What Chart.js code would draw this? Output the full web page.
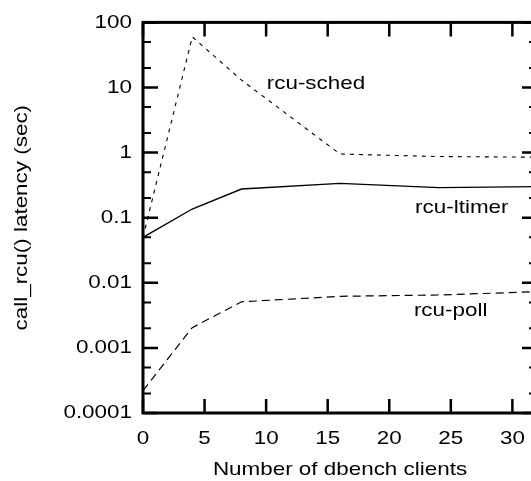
<!DOCTYPE html>
<html>
<head>
<meta charset="utf-8">
<script src="https://cdn.jsdelivr.net/npm/chart.js@4/dist/chart.umd.min.js"></script>
<style>
  html, body { margin: 0; padding: 0; background: #fff; overflow: hidden; }
  #wrap { width: 560px; height: 481px; }
</style>
</head>
<body>
<div id="wrap"><canvas id="latencyChart" width="560" height="481"></canvas></div>
<script>
// data
const clients = [0, 4, 8, 16, 24, 32];
const rcuSched = [0.05, 60, 13, 0.95, 0.87, 0.85];
const rcuLtimer = [0.05, 0.136, 0.276, 0.337, 0.29, 0.30];
const rcuPoll = [0.00022, 0.00205, 0.0051, 0.0062, 0.0065, 0.0073];

const yTickValues = [0.0001, 0.001, 0.01, 0.1, 1, 10, 100];
const yTickLabels = ['0.0001', '0.001', '0.01', '0.1', '1', '10', '100'];
const xTickValues = [0, 5, 10, 15, 20, 25, 30];

// where the curve names sit, in data units
const seriesNames = ['rcu-sched', 'rcu-ltimer', 'rcu-poll'];
const nameAnchorsX = [10.05, 22.1, 22.0];
const nameAnchorsY = [11.5, 0.144, 0.0037];

const FONT = '"Liberation Sans", Arial, Helvetica, sans-serif';
const FSIZE = 19;
const TEXT_STRETCH = 1.18; // the original lettering is wide

function toPoints(ys) {
  return clients.map((x, i) => ({ x: x, y: ys[i] }));
}

// stretch every label sideways about its anchor
const baseFillText = CanvasRenderingContext2D.prototype.fillText;
function wideFillText(t, x, y, w) {
  this.save();
  this.translate(x, y);
  this.scale(TEXT_STRETCH, 1);
  if (w === undefined) baseFillText.call(this, t, 0, 0);
  else baseFillText.call(this, t, 0, 0, w / TEXT_STRETCH);
  this.restore();
}

// frame, inward ticks and curve names
const framePlugin = {
  id: 'frame',
  beforeDraw(chart) {
    chart.ctx.fillText = wideFillText;
  },
  afterDatasetsDraw(chart) {
    const ctx = chart.ctx;
    const a = chart.chartArea;
    const xs = chart.scales.x;
    const ys = chart.scales.y;
    ctx.save();
    ctx.strokeStyle = '#000';
    ctx.lineCap = 'butt';

    // x ticks, bottom and top
    ctx.lineWidth = 2.5;
    xTickValues.forEach(v => {
      const px = xs.getPixelForValue(v);
      ctx.beginPath();
      ctx.moveTo(px, a.bottom); ctx.lineTo(px, a.bottom - 14);
      ctx.moveTo(px, a.top); ctx.lineTo(px, a.top + 14);
      ctx.stroke();
    });

    // y ticks, decades long, 2 and 5 short
    yTickValues.forEach((v, i) => {
      const py = ys.getPixelForValue(v);
      ctx.lineWidth = 2.5;
      ctx.beginPath();
      ctx.moveTo(a.left, py); ctx.lineTo(a.left + 15, py);
      ctx.moveTo(a.right, py); ctx.lineTo(a.right - 15, py);
      ctx.stroke();
      if (i < yTickValues.length - 1) {
        [2, 5].forEach(m => {
          const pm = ys.getPixelForValue(v * m);
          ctx.lineWidth = 2;
          ctx.beginPath();
          ctx.moveTo(a.left, pm); ctx.lineTo(a.left + 8, pm);
          ctx.moveTo(a.right, pm); ctx.lineTo(a.right - 8, pm);
          ctx.stroke();
        });
      }
    });

    ctx.lineWidth = 3;
    ctx.strokeRect(a.left, a.top, a.right - a.left, a.bottom - a.top);

    ctx.fillStyle = '#000';
    ctx.font = FSIZE + 'px ' + FONT;
    ctx.textAlign = 'left';
    ctx.textBaseline = 'middle';
    seriesNames.forEach((name, i) => {
      ctx.fillText(name, xs.getPixelForValue(nameAnchorsX[i]), ys.getPixelForValue(nameAnchorsY[i]));
    });
    ctx.restore();
  }
};

const ctx = document.getElementById('latencyChart').getContext('2d');
const latencyChart = new Chart(ctx, {
  type: 'line',
  data: {
    datasets: [
      {
        label: 'rcu-sched',
        data: toPoints(rcuSched),
        borderColor: '#000',
        borderWidth: 1.1,
        borderDash: [4, 5],
        pointRadius: 0,
        tension: 0
      },
      {
        label: 'rcu-ltimer',
        data: toPoints(rcuLtimer),
        borderColor: '#000',
        borderWidth: 1.4,
        pointRadius: 0,
        tension: 0
      },
      {
        label: 'rcu-poll',
        data: toPoints(rcuPoll),
        borderColor: '#000',
        borderWidth: 1.2,
        borderDash: [8, 5],
        pointRadius: 0,
        tension: 0
      }
    ]
  },
  options: {
    responsive: false,
    animation: false,
    devicePixelRatio: 1,
    layout: { padding: { top: 17, right: 23, left: 0, bottom: 0 } },
    plugins: {
      legend: { display: false },
      tooltip: { enabled: false }
    },
    scales: {
      x: {
        type: 'linear',
        min: 0,
        max: 32,
        grid: { display: false, drawTicks: false },
        border: { display: false },
        afterBuildTicks: s => { s.ticks = xTickValues.map(v => ({ value: v })); },
        afterFit: s => { s.height = 68; },
        ticks: {
          padding: 14,
          color: '#000',
          font: { family: FONT, size: FSIZE },
          maxRotation: 0
        },
        title: {
          display: true,
          text: 'Number of dbench clients',
          color: '#000',
          font: { family: FONT, size: FSIZE },
          padding: { top: 0, bottom: 0 }
        }
      },
      y: {
        type: 'logarithmic',
        min: 0.0001,
        max: 100,
        grid: { display: false, drawTicks: false },
        border: { display: false },
        afterBuildTicks: s => { s.ticks = yTickValues.map(v => ({ value: v })); },
        afterFit: s => { s.width = 143; },
        ticks: {
          padding: 11,
          color: '#000',
          font: { family: FONT, size: FSIZE },
          callback: v => yTickLabels[yTickValues.indexOf(v)]
        },
        title: {
          display: true,
          text: 'call_rcu() latency (sec)',
          color: '#000',
          font: { family: FONT, size: FSIZE },
          padding: { top: 10, bottom: 0 }
        }
      }
    }
  },
  plugins: [framePlugin]
});
</script>
</body>
</html>
